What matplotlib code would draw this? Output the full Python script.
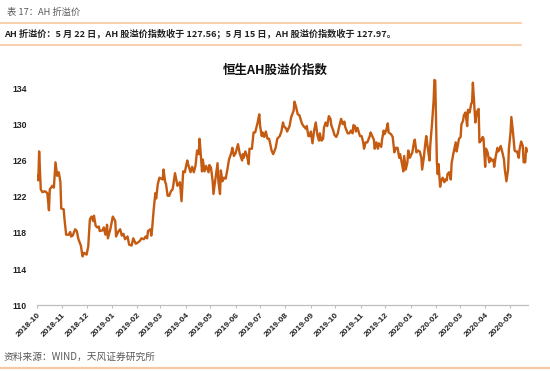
import matplotlib
matplotlib.use("Agg")
import matplotlib.pyplot as plt
import matplotlib.dates as mdates
from matplotlib.lines import Line2D
import pandas as pd

plt.rcParams['font.family'] = ['Liberation Sans', 'Noto Sans CJK SC', 'DejaVu Sans']

header_text = "表 17：AH 折溢价"
summary_text = "AH 折溢价：5 月 22 日，AH 股溢价指数收于 127.56；5 月 15 日，AH 股溢价指数收于 127.97。"
chart_title = "恒生AH股溢价指数"
source_text = "资料来源：WIND，天风证券研究所"

dates = [
 "2018-10-02","2018-10-03","2018-10-04","2018-10-06","2018-10-08","2018-10-11","2018-10-14","2018-10-16","2018-10-17","2018-10-20",
 "2018-10-22","2018-10-24","2018-10-26","2018-10-28","2018-10-30","2018-10-31","2018-11-03","2018-11-04","2018-11-06","2018-11-09",
 "2018-11-11","2018-11-12","2018-11-14","2018-11-17","2018-11-19","2018-11-21","2018-11-24","2018-11-26","2018-11-28","2018-12-01",
 "2018-12-03","2018-12-05","2018-12-07","2018-12-09","2018-12-10","2018-12-12","2018-12-14","2018-12-16","2018-12-17","2018-12-21",
 "2018-12-22","2018-12-24","2018-12-26","2018-12-27","2018-12-30","2019-01-02","2019-01-05","2019-01-06","2019-01-09","2019-01-11",
 "2019-01-13","2019-01-15","2019-01-17","2019-01-20","2019-01-22","2019-01-25","2019-01-27","2019-01-30","2019-02-01","2019-02-04",
 "2019-02-06","2019-02-09","2019-02-11","2019-02-13","2019-02-14","2019-02-17","2019-02-18","2019-02-19","2019-02-21","2019-02-23",
 "2019-02-24","2019-02-26","2019-02-28","2019-03-02","2019-03-04","2019-03-05","2019-03-07","2019-03-08","2019-03-10","2019-03-12",
 "2019-03-14","2019-03-16","2019-03-17","2019-03-19","2019-03-21","2019-03-22","2019-03-25","2019-03-27","2019-03-29","2019-03-31",
 "2019-04-03","2019-04-04","2019-04-07","2019-04-09","2019-04-11","2019-04-13","2019-04-15","2019-04-17","2019-04-18","2019-04-19",
 "2019-04-21","2019-04-22","2019-04-24","2019-04-26","2019-04-29","2019-04-30","2019-05-02","2019-05-04","2019-05-05","2019-05-07",
 "2019-05-10","2019-05-11","2019-05-13","2019-05-14","2019-05-16","2019-05-18","2019-05-20","2019-05-22","2019-05-24","2019-05-27",
 "2019-05-28","2019-05-30","2019-06-01","2019-06-04","2019-06-06","2019-06-09","2019-06-10","2019-06-11","2019-06-13","2019-06-15",
 "2019-06-17","2019-06-18","2019-06-21","2019-06-23","2019-06-25","2019-06-28","2019-06-30","2019-07-01","2019-07-03","2019-07-04",
 "2019-07-06","2019-07-08","2019-07-10","2019-07-12","2019-07-13","2019-07-15","2019-07-17","2019-07-20","2019-07-22","2019-07-25",
 "2019-07-27","2019-07-29","2019-07-30","2019-08-02","2019-08-03","2019-08-06","2019-08-08","2019-08-11","2019-08-12","2019-08-14",
 "2019-08-16","2019-08-18","2019-08-21","2019-08-23","2019-08-26","2019-08-27","2019-08-29","2019-08-31","2019-09-01","2019-09-03",
 "2019-09-05","2019-09-07","2019-09-09","2019-09-11","2019-09-12","2019-09-14","2019-09-16","2019-09-17","2019-09-19","2019-09-21",
 "2019-09-23","2019-09-25","2019-09-26","2019-09-28","2019-09-30","2019-10-02","2019-10-04","2019-10-05","2019-10-08","2019-10-10",
 "2019-10-12","2019-10-13","2019-10-16","2019-10-18","2019-10-20","2019-10-22","2019-10-23","2019-10-25","2019-10-26","2019-10-28",
 "2019-10-31","2019-11-02","2019-11-04","2019-11-05","2019-11-07","2019-11-09","2019-11-12","2019-11-13","2019-11-15","2019-11-17",
 "2019-11-18","2019-11-20","2019-11-22","2019-11-23","2019-11-26","2019-11-27","2019-11-29","2019-11-30","2019-12-02","2019-12-04",
 "2019-12-05","2019-12-08","2019-12-10","2019-12-12","2019-12-14","2019-12-16","2019-12-18","2019-12-19","2019-12-21","2019-12-23",
 "2019-12-24","2019-12-26","2019-12-28","2019-12-29","2019-12-31","2020-01-02","2020-01-03","2020-01-05","2020-01-06","2020-01-08",
 "2020-01-10","2020-01-12","2020-01-14","2020-01-15","2020-01-17","2020-01-19","2020-01-20","2020-01-22","2020-01-24","2020-01-25",
 "2020-01-27","2020-01-29","2020-01-30","2020-01-31","2020-02-01","2020-02-02","2020-02-03","2020-02-04","2020-02-06","2020-02-07",
 "2020-02-09","2020-02-11","2020-02-12","2020-02-14","2020-02-15","2020-02-17","2020-02-19","2020-02-20","2020-02-22","2020-02-24",
 "2020-02-25","2020-02-26","2020-02-27","2020-02-29","2020-03-02","2020-03-03","2020-03-05","2020-03-06","2020-03-08","2020-03-10",
 "2020-03-11","2020-03-13","2020-03-15","2020-03-16","2020-03-17","2020-03-19","2020-03-20","2020-03-22","2020-03-24","2020-03-25",
 "2020-03-27","2020-03-29","2020-03-30","2020-04-01","2020-04-02","2020-04-04","2020-04-06","2020-04-07","2020-04-09","2020-04-11",
 "2020-04-12","2020-04-14","2020-04-16","2020-04-17","2020-04-19","2020-04-20","2020-04-22","2020-04-24","2020-04-25","2020-04-27",
 "2020-04-29","2020-04-30","2020-05-02","2020-05-03","2020-05-05","2020-05-07","2020-05-08","2020-05-10","2020-05-12","2020-05-13",
 "2020-05-15","2020-05-17","2020-05-18","2020-05-20","2020-05-21","2020-05-22",
]

ah_premium = [
 124.3,123.8,127.0,122.8,122.5,122.6,122.4,120.5,122.8,123.2,
 123.0,125.8,124.3,124.7,123.6,120.7,120.6,119.5,117.8,117.8,
 118.1,117.6,117.7,118.4,118.2,117.3,116.6,115.4,115.8,115.6,
 116.5,119.5,119.8,119.3,119.9,118.8,118.6,118.7,118.2,118.3,
 118.6,117.8,118.9,117.4,118.4,119.8,119.3,117.6,118.2,118.4,
 117.7,117.9,117.3,117.6,116.7,116.6,117.4,116.8,116.9,117.1,
 117.4,117.3,117.6,117.4,118.2,118.4,117.7,118.4,120.6,122.4,
 121.8,123.4,124.1,124.0,123.9,125.0,123.6,123.4,122.1,122.1,
 122.6,122.8,123.3,124.6,123.7,123.2,123.6,121.5,124.8,124.7,
 126.0,125.6,124.7,125.3,124.7,125.4,127.1,126.7,128.4,127.3,
 124.8,126.1,124.8,125.4,124.7,125.5,125.2,123.7,122.3,123.7,
 125.7,123.7,122.3,124.9,123.7,124.1,124.0,125.0,126.1,126.9,
 127.4,126.5,126.8,127.8,126.8,126.0,126.7,126.3,127.0,126.5,
 125.6,127.3,127.3,129.1,129.1,130.2,131.1,129.8,128.7,129.1,
 128.6,129.2,128.4,128.4,128.0,127.1,126.7,127.4,128.4,128.7,
 129.2,130.2,129.8,129.5,129.2,129.8,130.8,131.5,132.5,131.9,
 131.1,131.0,130.1,129.8,129.5,129.8,128.7,128.7,129.2,127.9,
 129.3,130.2,128.8,128.2,129.0,128.2,128.4,129.6,130.2,129.8,
 130.9,130.6,129.9,129.4,128.8,128.6,129.0,129.5,130.6,130.0,
 130.3,129.7,129.0,129.0,129.3,129.0,129.9,129.8,129.2,129.6,
 128.7,128.7,128.0,127.3,128.0,128.0,128.7,129.1,128.7,128.3,
 127.3,128.0,127.3,127.9,127.5,128.3,129.3,128.9,129.3,130.1,
 129.1,128.9,128.6,126.9,127.4,127.4,126.3,126.7,125.8,124.8,
 126.5,125.0,125.8,127.1,126.3,126.7,126.9,128.0,128.3,126.9,
 127.1,127.0,126.3,125.0,126.3,128.0,128.7,127.3,126.0,127.8,
 130.0,132.6,134.9,134.8,130.0,125.8,124.5,125.6,123.1,123.7,
 124.1,123.6,123.9,123.8,124.5,124.7,123.9,125.7,126.7,127.6,
 128.0,127.0,127.4,128.4,128.6,130.0,130.4,131.0,131.3,129.8,
 131.6,131.3,132.3,132.4,134.6,131.7,130.2,131.4,131.7,128.0,
 128.2,128.6,128.4,125.3,127.3,126.9,125.8,126.3,126.0,126.1,
 125.3,126.5,127.4,127.0,127.3,127.6,126.9,126.1,125.0,123.7,
 125.0,127.3,129.1,130.8,129.1,127.1,127.0,127.0,126.3,127.2,
 128.1,127.6,125.8,125.8,127.4,127.0,
]

y_ticks = [110, 114, 118, 122, 126, 130, 134]

x = pd.to_datetime(dates)

fig = plt.figure(figsize=(5.5, 3.71), dpi=100)
ax = fig.add_axes([0.0667, 0.1771, 0.8928, 0.6221])

ax.plot(x, ah_premium, color='#C55A11', linewidth=1.7, solid_joinstyle='round')

ax.set_ylim(110, 135.5)
ax.set_yticks(y_ticks)
ax.set_xlim(pd.Timestamp("2018-10-01"), pd.Timestamp("2020-05-23"))
ax.xaxis.set_major_locator(mdates.MonthLocator())
ax.xaxis.set_major_formatter(mdates.DateFormatter('%Y-%m'))

for s in ['top', 'right', 'left']:
    ax.spines[s].set_visible(False)
ax.spines['bottom'].set_color('#BFBFBF')
ax.spines['bottom'].set_linewidth(0.9)

ax.tick_params(axis='y', length=0, pad=7, labelsize=6.2, labelcolor='#222222')
ax.tick_params(axis='x', length=2.5, width=0.8, color='#BFBFBF', pad=2,
               labelsize=6, labelcolor='#222222')
for lab in ax.get_yticklabels():
    lab.set_fontweight('bold')
for lab in ax.get_xticklabels():
    lab.set_fontweight('bold')
    lab.set_rotation(45)
    lab.set_ha('right')
    lab.set_va('top')
    lab.set_rotation_mode('anchor')

cjk = ['Noto Sans CJK SC', 'DejaVu Sans']
fig.text(0.5, 0.811, chart_title, ha='center', va='center', fontsize=9,
         fontweight='bold', family=cjk, color='#111111')
fig.text(0.012, 0.966, header_text, ha='left', va='center', fontsize=6.7,
         family=cjk, color='#595959')
fig.text(0.008, 0.9075, summary_text, ha='left', va='center', fontsize=6.6,
         fontweight='bold', family=cjk, color='#222222')
fig.text(0.007, 0.0385, source_text, ha='left', va='center', fontsize=7,
         family=cjk, color='#595959')

peach = '#F8C8A0'
fig.add_artist(Line2D([0, 0.948], [0.937, 0.937], transform=fig.transFigure, color=peach, linewidth=1.2))
fig.add_artist(Line2D([0, 0.948], [0.8787, 0.8787], transform=fig.transFigure, color=peach, linewidth=1.2))
fig.add_artist(Line2D([0, 1], [0.0073, 0.0073], transform=fig.transFigure, color=peach, linewidth=1.6))

fig.savefig("out.png", dpi=100)
